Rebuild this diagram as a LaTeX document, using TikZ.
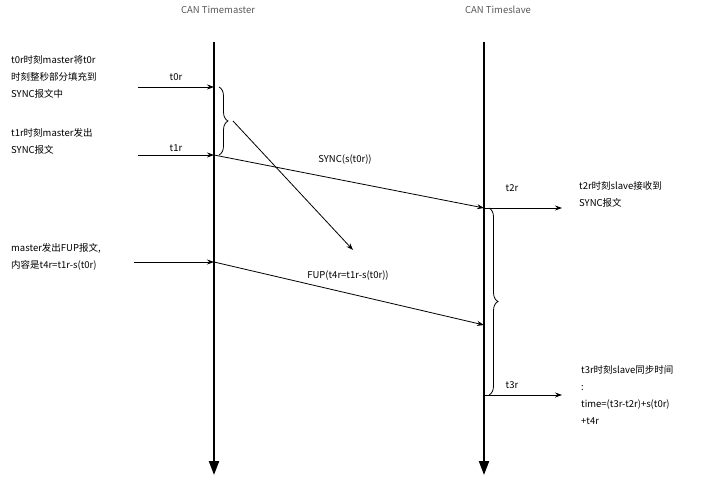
\documentclass[tikz,border=0pt]{standalone}
\usepackage{fontspec}
\setmainfont{Noto Sans CJK SC}
\usetikzlibrary{arrows.meta,decorations.pathreplacing}
\begin{document}
\begin{tikzpicture}[x=1pt,y=-1pt,
  every node/.style={font=\fontsize{9.5}{17}\selectfont, inner sep=1pt},
  tl/.style={line width=2.2pt,-{Triangle[width=10pt,length=14pt]}},
  ar/.style={line width=0.8pt,-{Stealth[length=7pt,width=5pt]}},
  txt/.style={align=left,anchor=north west},
  br/.style={decorate,decoration={brace,amplitude=9pt},line width=0.8pt}]
\useasboundingbox (0,0) rectangle (709,489);
\node[text=black!65] (h1) at (218,10) {CAN Timemaster};
\node[text=black!65] (h2) at (498,10) {CAN Timeslave};
\coordinate (la) at (214,42); \coordinate (lb) at (214,475);
\coordinate (ra) at (484,42); \coordinate (rb) at (484,475);
\draw[tl] (la) -- (lb);
\draw[tl] (ra) -- (rb);
% t0r
\node[txt] (n1) at (10,54) {t0r时刻master将t0r\\时刻整秒部分填充到\\SYNC报文中};
\coordinate (a0) at (138,87); \coordinate (m0) at (214,87);
\draw[ar] (a0) -- node[above=5pt] {t0r} (m0);
% t1r
\node[txt] (n2) at (10,127) {t1r时刻master发出\\SYNC报文};
\coordinate (a1) at (138,155); \coordinate (m1) at (214,155);
\draw[ar] (a1) -- node[above=2pt] {t1r} (m1);
\draw[br] (219,87) -- (219,155);
\coordinate (bt) at (233,121); \coordinate (be) at (353,250);
\draw[ar] (bt) -- (be);
% SYNC
\coordinate (s2) at (484,208);
\draw[ar] (m1) -- (s2);
\node (ls) at (345,160) {SYNC(s(t0r))};
\node (t2) at (512,188) {t2r};
\coordinate (e2) at (562,208);
\draw[ar] (s2) -- (e2);
\node[txt] (n3) at (578,180) {t2r时刻slave接收到\\SYNC报文};
% FUP
\node[txt] (n4) at (10,242) {master发出FUP报文,\\内容是t4r=t1r-s(t0r)};
\coordinate (a4) at (134,262); \coordinate (m4) at (214,262);
\draw[ar] (a4) -- (m4);
\coordinate (s4) at (484,325);
\draw[ar] (m4) -- (s4);
\node (lf) at (348,276) {FUP(t4r=t1r-s(t0r))};
% t3r
\draw[br] (489,208) -- (489,395);
\node (t3) at (512,385) {t3r};
\coordinate (s3) at (484,395); \coordinate (e3) at (562,395);
\draw[ar] (s3) -- (e3);
\node[txt] (n5) at (580,364) {t3r时刻slave同步时间\\:\\time=(t3r-t2r)+s(t0r)\\+t4r};
\end{tikzpicture}
\end{document}
